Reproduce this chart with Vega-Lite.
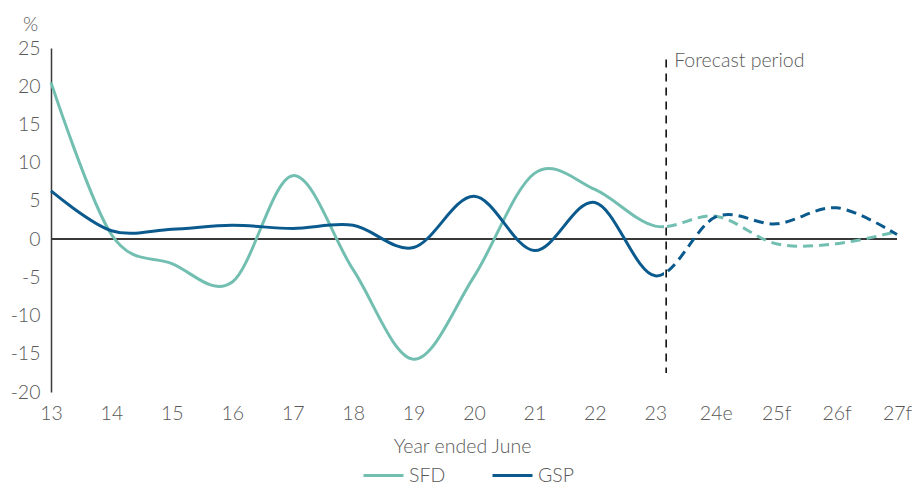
{
  "$schema": "https://vega.github.io/schema/vega-lite/v6.json",
  "width": 846,
  "height": 344,
  "autosize": {"type": "none"},
  "padding": {"left": 51, "top": 48, "right": 20, "bottom": 94},
  "background": "white",
  "config": {
    "view": {"stroke": null},
    "font": "Lato",
    "axis": {"labelFont": "Lato", "titleFont": "Lato", "labelColor": "#595959", "titleColor": "#595959", "labelFontSize": 19.5, "titleFontSize": 19.5, "titleFontWeight": 300, "labelFontWeight": 300, "grid": false, "ticks": false, "labelOverlap": false},
    "legend": {"labelFont": "Lato", "labelColor": "#595959", "labelFontSize": 19.5, "labelFontWeight": 300}
  },
  "datasets": {
    "series": [
      {"year": 13, "value": 20.5, "series": "SFD"},
      {"year": 14, "value": 0.6, "series": "SFD"},
      {"year": 15, "value": -3.2, "series": "SFD"},
      {"year": 16, "value": -5.6, "series": "SFD"},
      {"year": 17, "value": 8.3, "series": "SFD"},
      {"year": 18, "value": -4.0, "series": "SFD"},
      {"year": 19, "value": -15.7, "series": "SFD"},
      {"year": 20, "value": -4.9, "series": "SFD"},
      {"year": 21, "value": 8.6, "series": "SFD"},
      {"year": 22, "value": 6.5, "series": "SFD"},
      {"year": 23, "value": 1.7, "series": "SFD"},
      {"year": 24, "value": 3.0, "series": "SFD"},
      {"year": 25, "value": -0.6, "series": "SFD"},
      {"year": 26, "value": -0.6, "series": "SFD"},
      {"year": 27, "value": 1.0, "series": "SFD"},
      {"year": 13, "value": 6.3, "series": "GSP"},
      {"year": 14, "value": 1.1, "series": "GSP"},
      {"year": 15, "value": 1.3, "series": "GSP"},
      {"year": 16, "value": 1.8, "series": "GSP"},
      {"year": 17, "value": 1.4, "series": "GSP"},
      {"year": 18, "value": 1.8, "series": "GSP"},
      {"year": 19, "value": -1.1, "series": "GSP"},
      {"year": 20, "value": 5.6, "series": "GSP"},
      {"year": 21, "value": -1.5, "series": "GSP"},
      {"year": 22, "value": 4.8, "series": "GSP"},
      {"year": 23, "value": -4.8, "series": "GSP"},
      {"year": 24, "value": 2.9, "series": "GSP"},
      {"year": 25, "value": 2.0, "series": "GSP"},
      {"year": 26, "value": 4.1, "series": "GSP"},
      {"year": 27, "value": 0.6, "series": "GSP"}
    ],
    "note": [{"label": "Forecast period"}]
  },
  "layer": [
    {
      "data": {"name": "series"},
      "mark": {"type": "rule", "stroke": "#3a3a3a", "strokeWidth": 1.5},
      "encoding": {
        "y": {"datum": 0, "type": "quantitative", "scale": {"domain": [-20, 25], "nice": false},
          "axis": {"values": [-20, -15, -10, -5, 0, 5, 10, 15, 20, 25], "labelExpr": "datum.value + ''", "labelOverlap": false, "domain": true, "domainColor": "#3a3a3a", "domainWidth": 1.5, "labelPadding": 11, "title": "%", "titleAngle": 0, "titleX": -21, "titleY": -24, "titleAlign": "center", "titleBaseline": "middle"}}
      }
    },
    {
      "data": {"name": "series"},
      "mark": {"type": "line", "interpolate": "cardinal", "tension": 0, "strokeWidth": 3, "opacity": 0},
      "encoding": {
        "x": {"field": "year", "type": "quantitative", "scale": {"domain": [13, 27], "nice": false, "zero": false},
          "axis": {"values": [13, 14, 15, 16, 17, 18, 19, 20, 21, 22, 23, 24, 25, 26, 27], "labelExpr": "datum.value == 24 ? '24e' : (datum.value > 24 ? datum.value + 'f' : datum.value + '')", "domain": false, "labelPadding": 12, "labelDx": 3, "labelFlush": false, "labelOverlap": false, "title": "Year ended June", "titlePadding": 15, "titleX": 411}},
        "y": {"field": "value", "type": "quantitative", "scale": {"domain": [-20, 25], "nice": false},
          "axis": {"values": [-20, -15, -10, -5, 0, 5, 10, 15, 20, 25], "labelExpr": "datum.value + ''", "labelOverlap": false, "domain": true, "domainColor": "#3a3a3a", "domainWidth": 1.5, "labelPadding": 11, "title": "%", "titleAngle": 0, "titleX": -21, "titleY": -24, "titleAlign": "center", "titleBaseline": "middle"}},
        "color": {
          "field": "series", "type": "nominal",
          "scale": {"domain": ["SFD", "GSP"], "range": ["#72bfb2", "#0b5a8e"]},
          "legend": {
            "title": null, "orient": "none", "direction": "horizontal",
            "legendX": 311, "legendY": 406,
            "symbolType": "stroke", "symbolSize": 1600, "symbolStrokeWidth": 3, "symbolOpacity": 1,
            "columnPadding": 40, "labelOffset": 4
          }
        }
      }
    },
    {
      "data": {"name": "series"},
      "transform": [{"filter": "datum.series == 'SFD'"}],
      "mark": {"type": "line", "interpolate": "cardinal", "tension": 0, "strokeWidth": 3,
        "stroke": {"gradient": "linear", "x1": 0, "y1": 0, "x2": 1, "y2": 0, "stops": [
          {"offset": 0, "color": "#72bfb2"}, {"offset": 0.724, "color": "#72bfb2"},
          {"offset": 0.724, "color": "rgba(114,191,178,0)"}, {"offset": 1, "color": "rgba(114,191,178,0)"}]}},
      "encoding": {
        "x": {"field": "year", "type": "quantitative", "scale": {"domain": [13, 27], "nice": false, "zero": false},
          "axis": {"values": [13, 14, 15, 16, 17, 18, 19, 20, 21, 22, 23, 24, 25, 26, 27], "labelExpr": "datum.value == 24 ? '24e' : (datum.value > 24 ? datum.value + 'f' : datum.value + '')", "domain": false, "labelPadding": 12, "labelDx": 3, "labelFlush": false, "labelOverlap": false, "title": "Year ended June", "titlePadding": 15, "titleX": 411}},
        "y": {"field": "value", "type": "quantitative", "scale": {"domain": [-20, 25], "nice": false},
          "axis": {"values": [-20, -15, -10, -5, 0, 5, 10, 15, 20, 25], "labelExpr": "datum.value + ''", "labelOverlap": false, "domain": true, "domainColor": "#3a3a3a", "domainWidth": 1.5, "labelPadding": 11, "title": "%", "titleAngle": 0, "titleX": -21, "titleY": -24, "titleAlign": "center", "titleBaseline": "middle"}}
      }
    },
    {
      "data": {"name": "series"},
      "transform": [{"filter": "datum.series == 'SFD'"}],
      "mark": {"type": "line", "interpolate": "cardinal", "tension": 0, "strokeWidth": 3, "strokeDash": [10, 6],
        "stroke": {"gradient": "linear", "x1": 0, "y1": 0, "x2": 1, "y2": 0, "stops": [
          {"offset": 0, "color": "rgba(114,191,178,0)"}, {"offset": 0.728, "color": "rgba(114,191,178,0)"},
          {"offset": 0.728, "color": "#72bfb2"}, {"offset": 1, "color": "#72bfb2"}]}},
      "encoding": {
        "x": {"field": "year", "type": "quantitative", "scale": {"domain": [13, 27], "nice": false, "zero": false},
          "axis": {"values": [13, 14, 15, 16, 17, 18, 19, 20, 21, 22, 23, 24, 25, 26, 27], "labelExpr": "datum.value == 24 ? '24e' : (datum.value > 24 ? datum.value + 'f' : datum.value + '')", "domain": false, "labelPadding": 12, "labelDx": 3, "labelFlush": false, "labelOverlap": false, "title": "Year ended June", "titlePadding": 15, "titleX": 411}},
        "y": {"field": "value", "type": "quantitative", "scale": {"domain": [-20, 25], "nice": false},
          "axis": {"values": [-20, -15, -10, -5, 0, 5, 10, 15, 20, 25], "labelExpr": "datum.value + ''", "labelOverlap": false, "domain": true, "domainColor": "#3a3a3a", "domainWidth": 1.5, "labelPadding": 11, "title": "%", "titleAngle": 0, "titleX": -21, "titleY": -24, "titleAlign": "center", "titleBaseline": "middle"}}
      }
    },
    {
      "data": {"name": "series"},
      "transform": [{"filter": "datum.series == 'GSP'"}],
      "mark": {"type": "line", "interpolate": "cardinal", "tension": 0, "strokeWidth": 3,
        "stroke": {"gradient": "linear", "x1": 0, "y1": 0, "x2": 1, "y2": 0, "stops": [
          {"offset": 0, "color": "#0b5a8e"}, {"offset": 0.724, "color": "#0b5a8e"},
          {"offset": 0.724, "color": "rgba(11,90,142,0)"}, {"offset": 1, "color": "rgba(11,90,142,0)"}]}},
      "encoding": {
        "x": {"field": "year", "type": "quantitative", "scale": {"domain": [13, 27], "nice": false, "zero": false},
          "axis": {"values": [13, 14, 15, 16, 17, 18, 19, 20, 21, 22, 23, 24, 25, 26, 27], "labelExpr": "datum.value == 24 ? '24e' : (datum.value > 24 ? datum.value + 'f' : datum.value + '')", "domain": false, "labelPadding": 12, "labelDx": 3, "labelFlush": false, "labelOverlap": false, "title": "Year ended June", "titlePadding": 15, "titleX": 411}},
        "y": {"field": "value", "type": "quantitative", "scale": {"domain": [-20, 25], "nice": false},
          "axis": {"values": [-20, -15, -10, -5, 0, 5, 10, 15, 20, 25], "labelExpr": "datum.value + ''", "labelOverlap": false, "domain": true, "domainColor": "#3a3a3a", "domainWidth": 1.5, "labelPadding": 11, "title": "%", "titleAngle": 0, "titleX": -21, "titleY": -24, "titleAlign": "center", "titleBaseline": "middle"}}
      }
    },
    {
      "data": {"name": "series"},
      "transform": [{"filter": "datum.series == 'GSP'"}],
      "mark": {"type": "line", "interpolate": "cardinal", "tension": 0, "strokeWidth": 3, "strokeDash": [10, 6],
        "stroke": {"gradient": "linear", "x1": 0, "y1": 0, "x2": 1, "y2": 0, "stops": [
          {"offset": 0, "color": "rgba(11,90,142,0)"}, {"offset": 0.728, "color": "rgba(11,90,142,0)"},
          {"offset": 0.728, "color": "#0b5a8e"}, {"offset": 1, "color": "#0b5a8e"}]}},
      "encoding": {
        "x": {"field": "year", "type": "quantitative", "scale": {"domain": [13, 27], "nice": false, "zero": false},
          "axis": {"values": [13, 14, 15, 16, 17, 18, 19, 20, 21, 22, 23, 24, 25, 26, 27], "labelExpr": "datum.value == 24 ? '24e' : (datum.value > 24 ? datum.value + 'f' : datum.value + '')", "domain": false, "labelPadding": 12, "labelDx": 3, "labelFlush": false, "labelOverlap": false, "title": "Year ended June", "titlePadding": 15, "titleX": 411}},
        "y": {"field": "value", "type": "quantitative", "scale": {"domain": [-20, 25], "nice": false},
          "axis": {"values": [-20, -15, -10, -5, 0, 5, 10, 15, 20, 25], "labelExpr": "datum.value + ''", "labelOverlap": false, "domain": true, "domainColor": "#3a3a3a", "domainWidth": 1.5, "labelPadding": 11, "title": "%", "titleAngle": 0, "titleX": -21, "titleY": -24, "titleAlign": "center", "titleBaseline": "middle"}}
      }
    },
    {
      "data": {"name": "note"},
      "mark": {"type": "rule", "stroke": "#000000", "strokeWidth": 1.5, "strokeDash": [8, 6]},
      "encoding": {
        "x": {"datum": 23.18, "type": "quantitative", "scale": {"domain": [13, 27], "nice": false, "zero": false},
          "axis": {"values": [13, 14, 15, 16, 17, 18, 19, 20, 21, 22, 23, 24, 25, 26, 27], "labelExpr": "datum.value == 24 ? '24e' : (datum.value > 24 ? datum.value + 'f' : datum.value + '')", "domain": false, "labelPadding": 12, "labelDx": 3, "labelFlush": false, "labelOverlap": false, "title": "Year ended June", "titlePadding": 15, "titleX": 411}},
        "y": {"datum": 23.5, "type": "quantitative", "scale": {"domain": [-20, 25], "nice": false},
          "axis": {"values": [-20, -15, -10, -5, 0, 5, 10, 15, 20, 25], "labelExpr": "datum.value + ''", "labelOverlap": false, "domain": true, "domainColor": "#3a3a3a", "domainWidth": 1.5, "labelPadding": 11, "title": "%", "titleAngle": 0, "titleX": -21, "titleY": -24, "titleAlign": "center", "titleBaseline": "middle"}},
        "y2": {"datum": -17.5}
      }
    },
    {
      "data": {"name": "note"},
      "mark": {"type": "text", "align": "left", "baseline": "middle", "dx": 8, "fontSize": 19.5, "fontWeight": 300, "font": "Lato", "color": "#595959"},
      "encoding": {
        "x": {"datum": 23.18, "type": "quantitative", "scale": {"domain": [13, 27], "nice": false, "zero": false},
          "axis": {"values": [13, 14, 15, 16, 17, 18, 19, 20, 21, 22, 23, 24, 25, 26, 27], "labelExpr": "datum.value == 24 ? '24e' : (datum.value > 24 ? datum.value + 'f' : datum.value + '')", "domain": false, "labelPadding": 12, "labelDx": 3, "labelFlush": false, "labelOverlap": false, "title": "Year ended June", "titlePadding": 15, "titleX": 411}},
        "y": {"datum": 23.3, "type": "quantitative", "scale": {"domain": [-20, 25], "nice": false},
          "axis": {"values": [-20, -15, -10, -5, 0, 5, 10, 15, 20, 25], "labelExpr": "datum.value + ''", "labelOverlap": false, "domain": true, "domainColor": "#3a3a3a", "domainWidth": 1.5, "labelPadding": 11, "title": "%", "titleAngle": 0, "titleX": -21, "titleY": -24, "titleAlign": "center", "titleBaseline": "middle"}},
        "text": {"field": "label"}
      }
    }
  ]
}
